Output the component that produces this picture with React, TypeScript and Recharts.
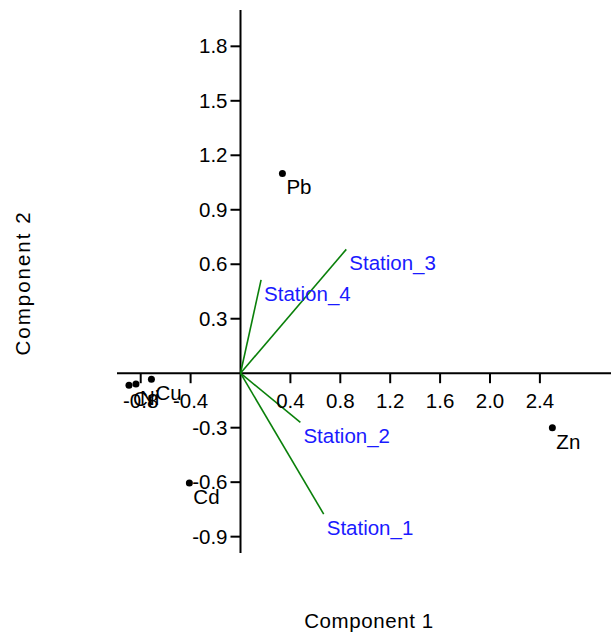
import React from "react";
import { ScatterChart, Scatter, XAxis, YAxis, ReferenceLine } from "recharts";

const elementNames = ["Pb", "Zn", "Cd", "Cu", "Cr", "Ni"];
const elementX = [0.336, 2.5, -0.41, -0.714, -0.894, -0.838];
const elementY = [1.1, -0.3, -0.605, -0.033, -0.066, -0.06];

const stationNames = ["Station_1", "Station_2", "Station_3", "Station_4"];
const stationX = [0.667, 0.48, 0.848, 0.165];
const stationY = [-0.776, -0.271, 0.682, 0.514];

const xTickValues = [-0.8, -0.4, 0.4, 0.8, 1.2, 1.6, 2.0, 2.4];
const xTickLabels = ["-0.8", "-0.4", "0.4", "0.8", "1.2", "1.6", "2.0", "2.4"];
const yTickValues = [-0.9, -0.6, -0.3, 0.3, 0.6, 0.9, 1.2, 1.5, 1.8];
const yTickLabels = ["-0.9", "-0.6", "-0.3", "0.3", "0.6", "0.9", "1.2", "1.5", "1.8"];

const xDomain = [-0.99, 2.97];
const yDomain = [-0.99, 2.0];

const FONT = "'Liberation Sans', Arial, sans-serif";
const FS = 20.5;

const elementData = elementNames.map((n, i) => ({ name: n, x: elementX[i], y: elementY[i] }));
const stationData = stationNames.map((n, i) => ({ name: n, x: stationX[i], y: stationY[i] }));
const xTickData = xTickValues.map((v, i) => ({ x: v, y: 0, label: xTickLabels[i] }));
const yTickData = yTickValues.map((v, i) => ({ x: 0, y: v, label: yTickLabels[i] }));

const ElementShape = (props: any) => {
  const { cx, cy, payload } = props;
  return (
    <g>
      <circle cx={cx} cy={cy} r={3.5} fill="#000" />
      <text x={cx + 4} y={cy + 21} fontSize={FS} fontFamily={FONT} fill="#000">
        {payload.name}
      </text>
    </g>
  );
};

const StationShape = (props: any) => {
  const { cx, cy, payload } = props;
  return (
    <text x={cx + 3} y={cy + 21} fontSize={FS} fontFamily={FONT} fill="#1a1aff">
      {payload.name}
    </text>
  );
};

const XTickShape = (props: any) => {
  const { cx, cy, payload } = props;
  return (
    <g>
      <line x1={cx} y1={cy} x2={cx} y2={cy + 10} stroke="#000" strokeWidth={2} />
      <text x={cx} y={cy + 35} textAnchor="middle" fontSize={FS} fontFamily={FONT} fill="#000">
        {payload.label}
      </text>
    </g>
  );
};

const YTickShape = (props: any) => {
  const { cx, cy, payload } = props;
  return (
    <g>
      <line x1={cx} y1={cy} x2={cx - 10} y2={cy} stroke="#000" strokeWidth={2} />
      <text x={cx - 13} y={cy + 7} textAnchor="end" fontSize={FS} fontFamily={FONT} fill="#000">
        {payload.label}
      </text>
    </g>
  );
};

export default function App() {
  return (
    <div style={{ position: "absolute", left: 0, top: 0, width: 611, height: 632, background: "#fff" }}>
      <ScatterChart width={611} height={632} margin={{ top: 10, right: 0, bottom: 79, left: 117 }}>
        <XAxis type="number" dataKey="x" domain={xDomain} hide allowDataOverflow />
        <YAxis type="number" dataKey="y" domain={yDomain} hide allowDataOverflow />
        <ReferenceLine y={0} stroke="#000" strokeWidth={2} />
        <ReferenceLine x={0} stroke="#000" strokeWidth={2} />
        {stationData.map((s) => (
          <ReferenceLine
            key={s.name}
            segment={[{ x: 0, y: 0 }, { x: s.x, y: s.y }]}
            stroke="#0a800a"
            strokeWidth={1.6}
          />
        ))}
        <Scatter data={xTickData} shape={<XTickShape />} isAnimationActive={false} />
        <Scatter data={yTickData} shape={<YTickShape />} isAnimationActive={false} />
        <Scatter data={stationData} shape={<StationShape />} isAnimationActive={false} />
        <Scatter data={elementData} shape={<ElementShape />} isAnimationActive={false} />
      </ScatterChart>
      <div
        style={{
          position: "absolute",
          left: 122,
          width: 494,
          top: 610,
          textAlign: "center",
          fontFamily: FONT,
          fontSize: FS,
          letterSpacing: "0.6px",
          color: "#000",
          lineHeight: "22px",
        }}
      >
        Component 1
      </div>
      <div
        style={{
          position: "absolute",
          left: 23,
          top: 283,
          transform: "translate(-50%, -50%) rotate(-90deg)",
          whiteSpace: "nowrap",
          fontFamily: FONT,
          fontSize: FS,
          letterSpacing: "2px",
          color: "#000",
          lineHeight: "22px",
        }}
      >
        Component 2
      </div>
    </div>
  );
}
